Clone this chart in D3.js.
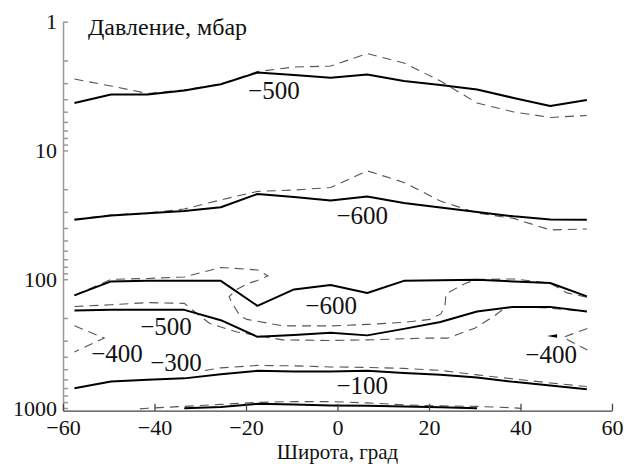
<!DOCTYPE html>
<html>
  <head>
    <meta charset="utf-8">
    <title>Pressure contours</title>
    <script src="https://d3js.org/d3.v7.min.js"></script>
    <style>
    body { margin:0; background:#fff; }
    svg { display:block; }
    text { font-family:"Liberation Serif", serif; fill:#111; }
    .solid { fill:none; stroke:#000; stroke-width:2px; stroke-linejoin:round; }
    .dash { fill:none; stroke:#555; stroke-width:1.1px; stroke-dasharray:9,6; }
    .yaxis path, .yaxis line { stroke:#999; stroke-width:1.5px; }
    .xaxis path, .xaxis line { stroke:#444; stroke-width:1.3px; }
    </style>
  </head>
  <body>
    <script>

// latitude grid of the full contours
var lats = [-57.5, -49.5, -41.5, -33.5, -25.5, -17.5, -9.5, -1.5, 6.5, 14.5, 22.5, 30.5, 38.5, 46.5, 54.5];

// solid contours, pressure (mbar) at each latitude
var solidA = [4.28, 3.67, 3.67, 3.42, 3.06, 2.48, 2.59, 2.72, 2.57, 2.89, 3.10, 3.36, 3.91, 4.51, 4.05];
var solidB = [34.6, 32.0, 30.8, 29.5, 27.6, 21.8, 23.0, 24.5, 22.8, 25.6, 27.7, 30.0, 32.5, 34.3, 34.6];
var solidC = [133.6, 104, 103, 103, 103, 161, 120, 111, 128, 103, 102, 101, 104, 107, 136];
var solidD = [175, 173, 173, 173, 208, 280, 271, 261, 273, 243, 215, 178, 164, 164, 178];
var solidE = [704, 622, 605, 589, 548, 515, 520, 520, 515, 534, 553, 579, 627, 668, 714];
var solidFLat = [-33.5, -25.5, -17.5, -9.5, -1.5, 6.5, 14.5, 22.5, 30.5];
var solidF = [1004, 981, 929, 938, 955, 963, 972, 989, 1004];

// dashed contours
var dashA = [2.79, 3.16, 3.61, 3.39, 3.05, 2.44, 2.25, 2.21, 1.77, 2.09, 2.89, 4.28, 5.02, 5.54, 5.35];
var dashB = [34.3, 31.7, 30.6, 28.5, 24.2, 20.8, 20.3, 19.4, 14.4, 17.7, 24.7, 30.6, 33.7, 41.4, 40.7];
var dashCLat = [-57.5, -49.5, -41.5, -33.5, -25.5, -17.5, -15.2, -17.5, -19.8, -22.2, -23.7, -22.8, -21.3, -19.8,
                -11.9, -1.5, 6.5, 14.5, 20.2, 22.6, 23.5, 23.7, 27.9, 30.5, 38.5, 46.5, 50.2, 54.5];
var dashC = [133.6, 100.4, 98.6, 96.0, 81.0, 84.7, 94.3, 102.2, 108.8, 121.1, 137.3, 158.4, 192.7, 205.2,
             230.5, 230.5, 224.4, 216.5, 205.2, 186.0, 161.2, 130.0, 107.8, 100.4, 99.5, 107.4, 127.7, 138.0];
var dashDLat = [-57.5, -49.5, -41.5, -33.5, -32.2, -28, -22, -12, -1.5, 6.5, 19, 24, 30, 34, 36.5, 39.5, 46.5, 54.5];
var dashD = [163, 158, 152, 154, 168, 220, 257, 296, 299, 296, 287, 287, 240, 196, 168, 163, 168, 178.5];
var dashELat = [-29, -25.5, -17.5, -9.5, -1.5, 6.5, 14.5, 22.5, 30.5, 38.5, 46.5, 54.5];
var dashE = [511, 488, 467, 471, 480, 484, 493, 511, 553, 595, 639, 682];
var dashFLat = [-43.2, -41.5, -33.5, -25.5, -17.5, -9.5, -1.5, 6.5, 14.5, 22.5, 30.5, 38.5, 40.1];
var dashF = [1016, 1004, 972, 938, 905, 892, 892, 913, 946, 963, 972, 998, 1007];
var dashLeftLat = [-57.5, -51, -57.5];
var dashLeft = [230, 286, 367];
var dashRightLat = [54.6, 49.3, 54.6];
var dashRight = [241, 283, 354];
var solidRightLat = [45.8, 48.0];
var solidRight = [276, 277];

// contour labels
var labelText = ["\u2212500", "\u2212600", "\u2212600", "\u2212500", "\u2212400", "\u2212300", "\u2212100", "\u2212400"];
var labelLat = [-13.9, 5.4, -1.4, -37.5, -48.2, -35.3, 5.4, 46.7];
var labelP = [4.02, 37.2, 186, 271, 436, 512, 777, 444];

var xTicks = [-60, -40, -20, 0, 20, 40, 60];
var yLabels = [1, 10, 100, 1000];

var width = 627, height = 464;

var x = d3.scaleLinear().domain([-60, 60]).range([63, 612]);
var y = d3.scaleLog().domain([1, 1050]).range([21.7, 410.7]);

var svg = d3.select("body").append("svg")
    .attr("width", width)
    .attr("height", height);

function zip(a, b) { return a.map(function(v, i) { return [v, b[i]]; }); }

var line = d3.line()
    .x(function(d) { return x(d[0]); })
    .y(function(d) { return y(d[1]); });

var dashed = [
  zip(lats, dashA), zip(lats, dashB), zip(dashCLat, dashC), zip(dashDLat, dashD),
  zip(dashELat, dashE), zip(dashFLat, dashF), zip(dashLeftLat, dashLeft), zip(dashRightLat, dashRight)
];
var solids = [
  zip(lats, solidA), zip(lats, solidB), zip(lats, solidC), zip(lats, solidD),
  zip(lats, solidE), zip(solidFLat, solidF)
];

svg.selectAll(".dash")
    .data(dashed)
  .enter().append("path")
    .attr("class", "dash")
    .attr("d", line);

svg.selectAll(".solid")
    .data(solids)
  .enter().append("path")
    .attr("class", "solid")
    .attr("d", line);

// small arrow-like solid piece near the right "-400"
var rp = zip(solidRightLat, solidRight);
svg.append("path")
    .attr("fill", "#000")
    .attr("d", "M" + x(rp[0][0]) + "," + y(rp[0][1]) +
               "L" + x(rp[1][0]) + "," + (y(rp[1][1]) - 2) +
               "L" + x(rp[1][0]) + "," + (y(rp[1][1]) + 1.5) + "Z");

// minor + major ticks on the log axis
var yTickVals = [];
[1, 10, 100].forEach(function(b) { for (var k = 1; k < 10; k++) yTickVals.push(b * k); });
yTickVals.push(1000);

svg.append("g")
    .attr("class", "yaxis")
    .attr("transform", "translate(63,0)")
    .call(d3.axisLeft(y)
      .tickValues(yTickVals)
      .tickSizeInner(-5)
      .tickSizeOuter(0)
      .tickPadding(6)
      .tickFormat(function(d) { return yLabels.indexOf(d) >= 0 ? d : ""; }))
    .call(function(g) {
      g.selectAll("text").attr("font-family", "Liberation Serif, serif").attr("font-size", 22).attr("fill", "#111");
    });

svg.append("g")
    .attr("class", "xaxis")
    .attr("transform", "translate(0," + y.range()[1] + ")")
    .call(d3.axisBottom(x)
      .tickValues(xTicks)
      .tickSizeInner(-7)
      .tickSizeOuter(0)
      .tickPadding(9))
    .call(function(g) {
      g.selectAll("text").attr("font-family", "Liberation Serif, serif").attr("font-size", 22).attr("fill", "#111");
    });

svg.selectAll(".clabel")
    .data(labelText)
  .enter().append("text")
    .attr("class", "clabel")
    .attr("x", function(d, i) { return x(labelLat[i]); })
    .attr("y", function(d, i) { return y(labelP[i]); })
    .attr("text-anchor", "middle")
    .attr("font-size", 25)
    .text(function(d) { return d; });

svg.append("text")
    .attr("x", 88)
    .attr("y", 35)
    .attr("font-size", 24)
    .text("Давление, мбар");

svg.append("text")
    .attr("x", x(0))
    .attr("y", 459.4)
    .attr("text-anchor", "middle")
    .attr("font-size", 21)
    .text("Широта, град");

    </script>
  </body>
</html>
